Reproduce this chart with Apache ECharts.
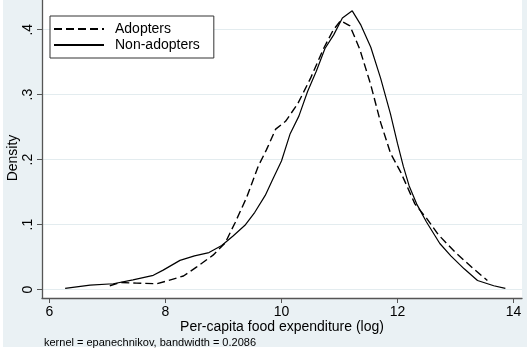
<!DOCTYPE html>
<html>
<head>
<meta charset="utf-8">
<script src="https://cdn.jsdelivr.net/npm/echarts@6/dist/echarts.min.js"></script>
<style>html,body{margin:0;padding:0;background:#fff}#c{width:529px;height:353px}</style>
</head>
<body>
<div id="c"></div>
<script>
// Data
const adoptersX = [7.04, 7.22, 7.50, 7.85, 8.05, 8.31, 8.54, 8.82, 9.03, 9.20, 9.40, 9.60, 9.74, 9.90, 10.07, 10.28, 10.50, 10.72, 10.89, 11.02, 11.18, 11.35, 11.54, 11.71, 11.88, 12.06, 12.16, 12.30, 12.50, 12.70, 13.00, 13.30, 13.55];
const adoptersY = [0.006, 0.011, 0.010, 0.009, 0.014, 0.021, 0.035, 0.053, 0.072, 0.103, 0.142, 0.190, 0.215, 0.247, 0.259, 0.286, 0.325, 0.370, 0.399, 0.414, 0.406, 0.370, 0.315, 0.257, 0.210, 0.180, 0.160, 0.132, 0.110, 0.085, 0.057, 0.033, 0.014];
const nonAdoptersX = [6.27, 6.70, 7.10, 7.44, 7.79, 7.96, 8.25, 8.50, 8.75, 8.97, 9.17, 9.37, 9.54, 9.72, 9.85, 10.00, 10.15, 10.30, 10.45, 10.60, 10.75, 10.90, 11.05, 11.22, 11.37, 11.54, 11.71, 11.88, 12.00, 12.10, 12.20, 12.33, 12.50, 12.73, 12.92, 13.15, 13.38, 13.66, 13.86];
const nonAdoptersY = [0.002, 0.007, 0.009, 0.015, 0.022, 0.030, 0.045, 0.052, 0.057, 0.068, 0.083, 0.099, 0.119, 0.145, 0.170, 0.198, 0.240, 0.267, 0.305, 0.336, 0.371, 0.392, 0.418, 0.429, 0.407, 0.373, 0.325, 0.270, 0.225, 0.190, 0.160, 0.132, 0.104, 0.071, 0.052, 0.032, 0.014, 0.006, 0.002];
const xTicks = [6, 8, 10, 12, 14];
const yTicks = [0, 0.1, 0.2, 0.3, 0.4];
const seriesNames = ['Adopters', 'Non-adopters'];
const xTitle = 'Per-capita food expenditure (log)';
const yTitle = 'Density';
const note = 'kernel = epanechnikov, bandwidth = 0.2086';

const FONT = '"Liberation Sans", Arial, sans-serif';
const pairs = (xs, ys) => xs.map((x, i) => [x, ys[i]]);
const chart = echarts.init(document.getElementById('c'), null, {renderer: 'canvas'});
chart.setOption({
  animation: false,
  backgroundColor: '#ffffff',
  textStyle: {fontFamily: FONT},
  graphic: [{
    type: 'rect', z: -10, silent: true,
    shape: {x: 3, y: 0, width: 524, height: 347},
    style: {fill: '#eaf1f4'}
  }],
  title: {
    text: note, left: 44, top: 337, padding: 0,
    textStyle: {fontSize: 11, fontWeight: 'normal', color: '#000', fontFamily: FONT}
  },
  legend: {
    data: seriesNames,
    orient: 'vertical', left: 50, top: 16,
    padding: [6, 14, 6, 3],
    itemWidth: 50, itemHeight: 14, itemGap: 2,
    itemStyle: {opacity: 0},
    backgroundColor: '#fff', borderColor: '#333', borderWidth: 1,
    textStyle: {fontSize: 14, color: '#000', fontFamily: FONT, padding: [0, 0, 0, 6]}
  },
  grid: {left: 42, right: 7, top: 0, bottom: 55, show: true, backgroundColor: '#fff', borderWidth: 0, containLabel: false, outerBoundsMode: 'none'},
  xAxis: {
    type: 'value', min: 5.871, max: 14.147,
    name: xTitle, nameLocation: 'middle', nameGap: 22, nameMoveOverlap: false,
    nameTextStyle: {fontSize: 14, color: '#000', fontFamily: FONT},
    axisLine: {show: true, onZero: false, lineStyle: {color: '#555', width: 1.3}},
    axisTick: {show: true, customValues: xTicks, length: 5, lineStyle: {color: '#555'}},
    axisLabel: {customValues: xTicks, fontSize: 14, color: '#000', margin: 7, fontFamily: FONT},
    splitLine: {show: false}
  },
  yAxis: {
    type: 'value', min: -0.0129, max: 0.4457,
    name: yTitle, nameLocation: 'middle', nameGap: 22, nameRotate: 90, nameMoveOverlap: false,
    nameTextStyle: {fontSize: 14, color: '#000', fontFamily: FONT, padding: [0, 18, 0, 0]},
    axisLine: {show: true, onZero: false, lineStyle: {color: '#555', width: 1.3}},
    axisTick: {show: true, customValues: yTicks, length: 5, lineStyle: {color: '#555'}},
    axisLabel: {
      customValues: yTicks, rotate: 90, fontSize: 14, color: '#000', margin: 7, fontFamily: FONT,
      formatter: v => (Math.abs(v) < 1e-9 ? '0' : String(Math.round(v * 10) / 10).replace(/^0\./, '.'))
    },
    splitLine: {show: true, lineStyle: {color: '#e3ecef', width: 1}}
  },
  series: [
    {
      name: seriesNames[0], type: 'line', symbol: 'none', smooth: false,
      data: pairs(adoptersX, adoptersY),
      lineStyle: {color: '#000', width: 1.4, type: [8, 4]},
      itemStyle: {color: '#000'}
    },
    {
      name: seriesNames[1], type: 'line', symbol: 'none', smooth: false,
      data: pairs(nonAdoptersX, nonAdoptersY),
      lineStyle: {color: '#000', width: 1.2, type: 'solid'},
      itemStyle: {color: '#000'}
    }
  ]
});
</script>
</body>
</html>
